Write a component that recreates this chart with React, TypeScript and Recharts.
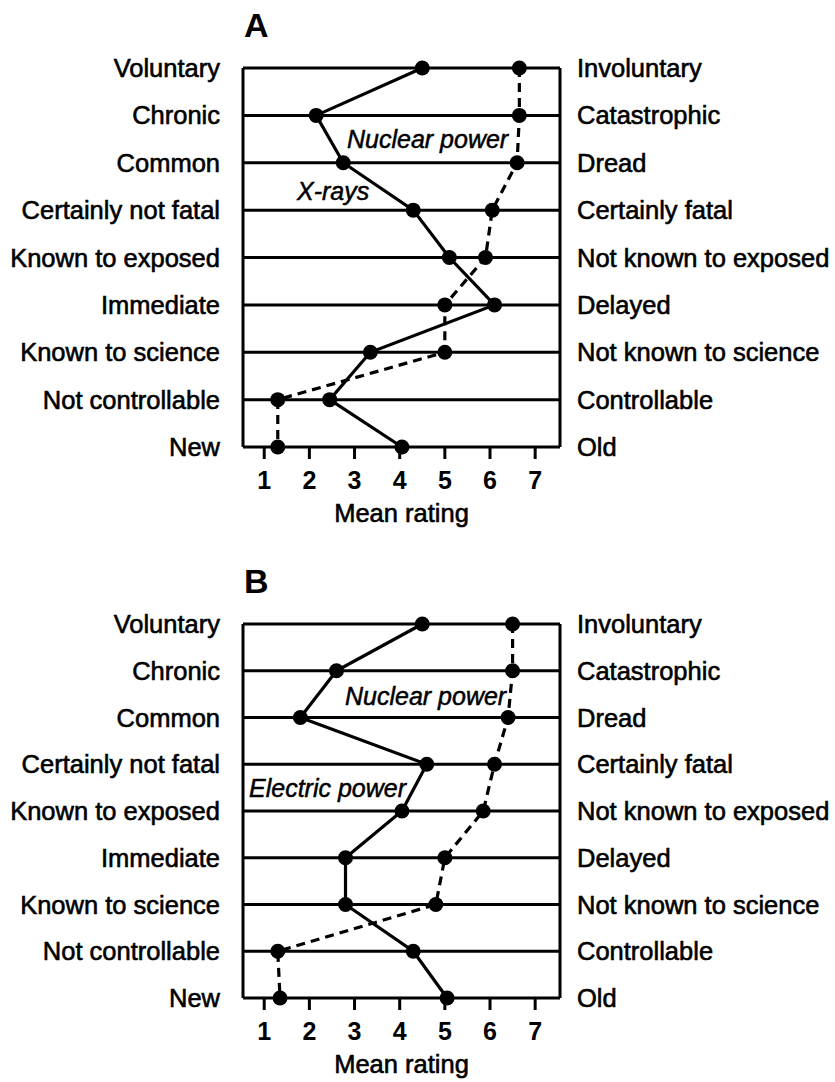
import React from "react";
import {
  LineChart,
  Line,
  XAxis,
  YAxis,
  CartesianGrid,
} from "recharts";

const leftLabels = [
  "Voluntary",
  "Chronic",
  "Common",
  "Certainly not fatal",
  "Known to exposed",
  "Immediate",
  "Known to science",
  "Not controllable",
  "New",
];
const rightLabels = [
  "Involuntary",
  "Catastrophic",
  "Dread",
  "Certainly fatal",
  "Not known to exposed",
  "Delayed",
  "Not known to science",
  "Controllable",
  "Old",
];
const ratingTicks = [1, 2, 3, 4, 5, 6, 7];

// panel A
const xRays = [4.5, 2.15, 2.75, 4.3, 5.1, 6.1, 3.35, 2.45, 4.05];
const nuclearA = [6.65, 6.65, 6.6, 6.05, 5.9, 5.0, 5.0, 1.3, 1.3];
// panel B
const electric = [4.5, 2.6, 1.8, 4.6, 4.05, 2.8, 2.8, 4.3, 5.05];
const nuclearB = [6.5, 6.5, 6.4, 6.1, 5.85, 5.0, 4.8, 1.3, 1.35];

const FONT = "'Liberation Sans', Arial, Helvetica, sans-serif";

const build = (solid: number[], dashed: number[]) =>
  leftLabels.map((l, i) => ({
    left: l,
    right: rightLabels[i],
    solid: solid[i],
    dashed: dashed[i],
  }));

type Note = { text: string; x: number; y: number };

function Panel({
  title,
  solid,
  dashed,
  top,
  height,
  axisHeight,
  labelOffset,
  notes,
}: {
  title: string;
  solid: number[];
  dashed: number[];
  top: number;
  height: number;
  axisHeight: number;
  labelOffset: number;
  notes: Note[];
}) {
  const data = build(solid, dashed);
  // scanned text looks a bit heavier than regular weight
  const tick = {
    fill: "#000",
    stroke: "#000",
    strokeWidth: 0.6,
    fontSize: 25.5,
    fontFamily: FONT,
  };

  return (
    <div style={{ position: "absolute", left: 0, top, width: 835, height }}>
      <LineChart
        width={835}
        height={height}
        data={data}
        layout="vertical"
        margin={{ top: 68, right: 0, left: 0, bottom: 0 }}
      >
        <CartesianGrid
          stroke="#000"
          strokeWidth={3}
          yAxisId="left"
          verticalCoordinatesGenerator={({ offset }: any) => [
            offset.left,
            offset.left + offset.width,
          ]}
        />
        <XAxis
          type="number"
          domain={[0.53, 7.55]}
          allowDataOverflow
          ticks={ratingTicks}
          axisLine={false}
          tickSize={12}
          tickMargin={12}
          tickLine={{ stroke: "#000", strokeWidth: 3 }}
          tick={{ fill: "#000", fontSize: 25, fontWeight: "bold", fontFamily: FONT }}
          height={axisHeight}
          label={{
            value: "Mean rating",
            position: "insideBottom",
            offset: labelOffset,
            fill: "#000",
            stroke: "#000",
            strokeWidth: 0.6,
            fontSize: 25.5,
            fontFamily: FONT,
          }}
        />
        <YAxis
          yAxisId="left"
          type="category"
          dataKey="left"
          scale="point"
          padding={{ top: 0, bottom: 0 }}
          width={243}
          axisLine={false}
          tickLine={false}
          tickSize={0}
          tickMargin={23}
          tick={tick}
          interval={0}
        />
        <YAxis
          yAxisId="right"
          orientation="right"
          type="category"
          dataKey="right"
          scale="point"
          padding={{ top: 0, bottom: 0 }}
          width={275}
          axisLine={false}
          tickLine={false}
          tickSize={0}
          tickMargin={17}
          tick={{ ...tick, textAnchor: "start" }}
          interval={0}
        />
        <Line
          yAxisId="left"
          dataKey="dashed"
          stroke="#000"
          strokeWidth={3.2}
          strokeDasharray="9 6"
          dot={{ r: 7.5, fill: "#000", stroke: "none" }}
          isAnimationActive={false}
        />
        <Line
          yAxisId="left"
          dataKey="solid"
          stroke="#000"
          strokeWidth={3.2}
          dot={{ r: 7.5, fill: "#000", stroke: "none" }}
          isAnimationActive={false}
        />
      </LineChart>
      <svg
        width={835}
        height={height}
        style={{ position: "absolute", left: 0, top: 0, pointerEvents: "none" }}
      >
        <text x={244} y={37} fontFamily={FONT} fontSize={34} fontWeight="bold">
          {title}
        </text>
        {notes.map((n) => (
          <text
            key={n.text}
            x={n.x}
            y={n.y}
            fontFamily={FONT}
            fontSize={25}
            fontStyle="italic"
            stroke="#000"
            strokeWidth={0.5}
          >
            {n.text}
          </text>
        ))}
      </svg>
    </div>
  );
}

export default function App() {
  return (
    <div
      style={{
        position: "absolute",
        left: 0,
        top: 0,
        width: 835,
        height: 1082,
        background: "#fff",
        overflow: "hidden",
      }}
    >
      <Panel
        title="A"
        solid={xRays}
        dashed={nuclearA}
        top={0}
        height={545}
        axisHeight={98}
        labelOffset={23}
        notes={[
          { text: "Nuclear power", x: 347, y: 148 },
          { text: "X-rays", x: 297, y: 200 },
        ]}
      />
      <Panel
        title="B"
        solid={electric}
        dashed={nuclearB}
        top={556}
        height={526}
        axisHeight={84}
        labelOffset={9}
        notes={[
          { text: "Nuclear power", x: 345, y: 149 },
          { text: "Electric power", x: 249, y: 241 },
        ]}
      />
    </div>
  );
}
